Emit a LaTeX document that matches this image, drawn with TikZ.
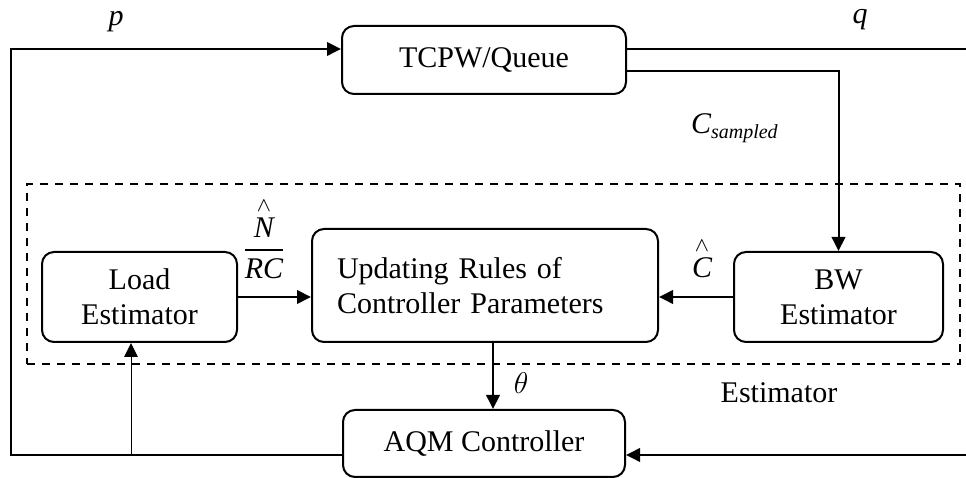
\documentclass[tikz,border=0pt]{standalone}
\usepackage{amsmath}
\usepackage{fontspec}
\setmainfont{Liberation Serif}
\usetikzlibrary{arrows.meta}
\newdimen\px \px=0.4pt
\begin{document}
\begin{tikzpicture}[x=0.4pt,y=-0.4pt,
  every node/.style={font=\fontsize{12}{14}\selectfont},
  blk/.style={draw, line width=0.8pt, rounded corners=12\px, align=center, inner sep=0pt},
  arr/.style={line width=0.8pt, -{Triangle[length=5.6pt,width=5.4pt]}},
  ln/.style={line width=0.8pt},
  lbl/.style={inner sep=0pt}]
\useasboundingbox (0,0) rectangle (966,478);
% dashed estimator region
\node[draw, dashed, line width=0.6pt, minimum width=933\px, minimum height=180\px, inner sep=0pt] (est) at (493.5,274) {};
% blocks
\node[blk, minimum width=284\px, minimum height=68\px] (tcp) at (484,60) {TCPW/Queue};
\node[blk, minimum width=195\px, minimum height=90\px] (load) at (139.5,297) {Load\\Estimator};
\node[blk, text width=296\px, inner xsep=25\px, minimum height=113\px, align=left] (upd) at (485,285.5) {Updating Rules of\\Controller Parameters};
\node[blk, minimum width=209\px, minimum height=90\px] (bw) at (838.5,297) {BW\\Estimator};
\node[blk, minimum width=282\px, minimum height=67\px] (aqm) at (484,443.5) {AQM Controller};
% helper coordinates
\coordinate (tl) at (11,49);
\coordinate (bl) at (11,455);
\coordinate (qr) at (966,49);
\coordinate (cs) at (0,71);
\coordinate (br) at (966,455);
\coordinate (thx) at (493,0);
\coordinate (ax) at (131,0);
% connectors
\draw[arr] (aqm.west |- bl) -| (tl) -- (tcp.west |- tl);
\draw[ln] (tcp.east |- tl) -- (qr);
\draw[arr] (tcp.east |- cs) -| (bw.north);
\draw[arr] (load.east) -- (upd.west |- load.east);
\draw[arr] (bw.west) -- (upd.east |- bw.west);
\draw[arr] (upd.south -| thx) -- (aqm.north -| thx);
\draw[line width=0.4pt, -{Triangle[length=5.6pt,width=5.4pt]}] (bl -| ax) -- (load.south -| ax);
\draw[arr] (br) -- (aqm.east |- br);
% labels
\node[lbl] (lp) at (116,22) {\textit{p}};
\node[lbl] (lq) at (860,20) {\textit{q}};
\node[lbl] (lcs) at (735,128) {$\textit{C}_{\textit{sampled}}$};
\node[lbl] (lnrc) at (264,238) {$\dfrac{\stackrel{\wedge}{\textit{N}}}{\textit{RC}}$};
\node[lbl] (lch) at (702,258) {$\stackrel{\wedge}{\textit{C}}$};
\node[lbl] (lth) at (521,383) {$\theta$};
\node[lbl] (lest) at (779,393) {Estimator};
\end{tikzpicture}
\end{document}
